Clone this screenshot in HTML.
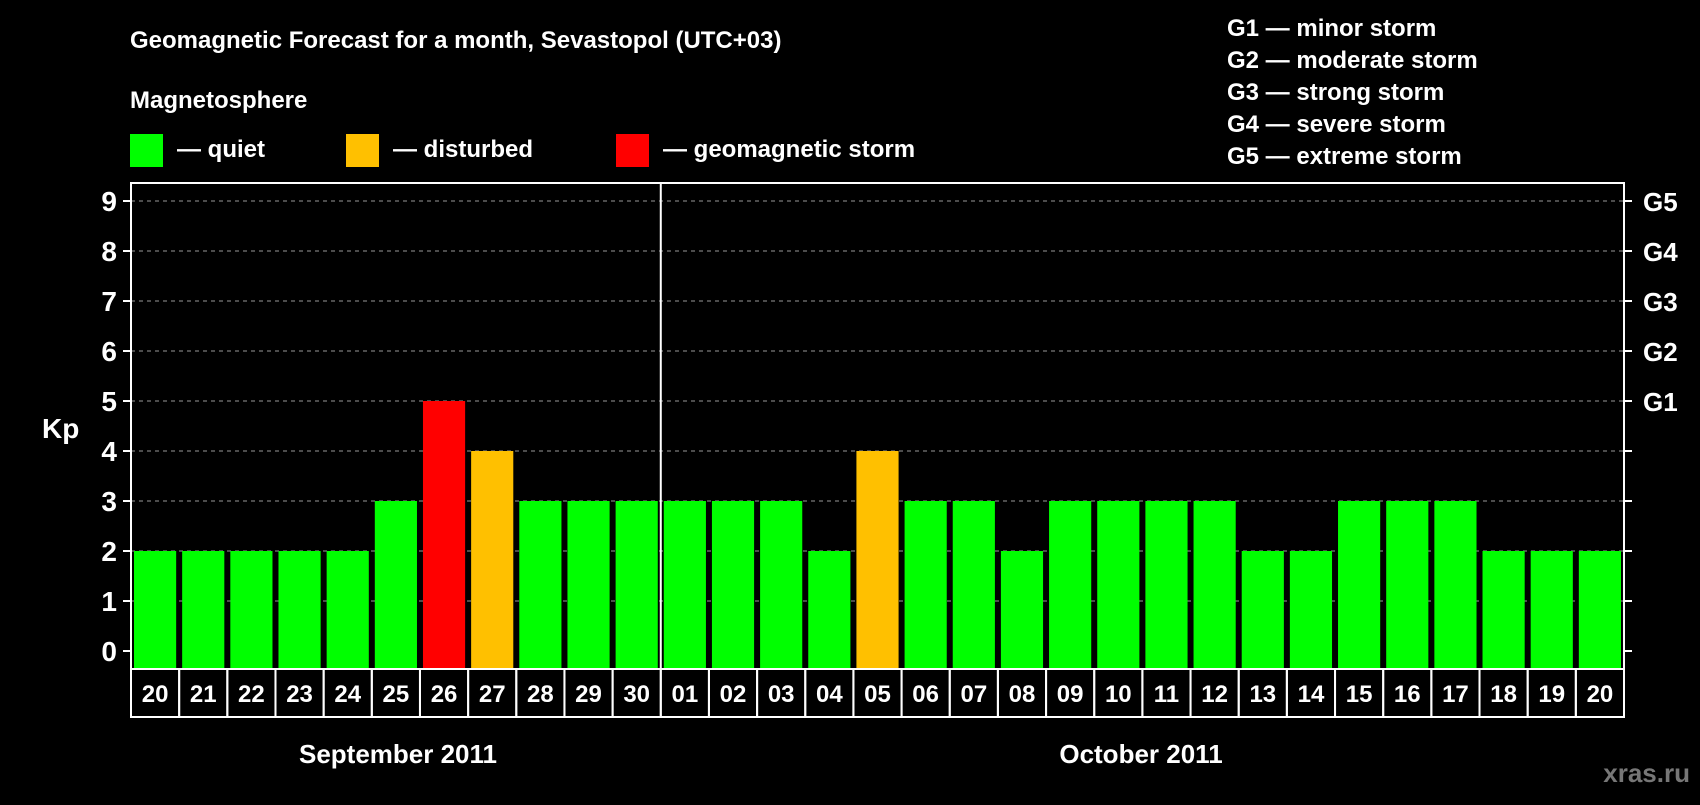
<!DOCTYPE html>
<html><head><meta charset="utf-8"><style>
body{margin:0;background:#000;width:1700px;height:800px;overflow:hidden;font-family:"Liberation Sans",sans-serif;}
svg text{font-family:"Liberation Sans",sans-serif;font-weight:bold;fill:#fff;}
</style></head><body>
<svg id="c" width="1700" height="800" xmlns="http://www.w3.org/2000/svg">
<text x="130" y="48" font-size="24">Geomagnetic Forecast for a month, Sevastopol (UTC+03)</text>
<text x="130" y="108" font-size="24">Magnetosphere</text>
<rect x="130" y="134" width="33" height="33" fill="#00ff00"/>
<text x="177" y="157" font-size="24">— quiet</text>
<rect x="346" y="134" width="33" height="33" fill="#ffc000"/>
<text x="393" y="157" font-size="24">— disturbed</text>
<rect x="616" y="134" width="33" height="33" fill="#ff0000"/>
<text x="663" y="157" font-size="24">— geomagnetic storm</text>
<g font-size="24">
<text x="1227" y="36">G1 — minor storm</text>
<text x="1227" y="68">G2 — moderate storm</text>
<text x="1227" y="100">G3 — strong storm</text>
<text x="1227" y="132">G4 — severe storm</text>
<text x="1227" y="164">G5 — extreme storm</text>
</g>
<text x="42" y="438" font-size="28">Kp</text>
<text x="398" y="763" font-size="26" text-anchor="middle">September 2011</text>
<text x="1141" y="763" font-size="26" text-anchor="middle">October 2011</text>
<text x="1690" y="782" font-size="26" text-anchor="end" style="fill:#777">xras.ru</text>
<g id="plot"></g>
</svg>
<script>
const days=["20","21","22","23","24","25","26","27","28","29","30","01","02","03","04","05","06","07","08","09","10","11","12","13","14","15","16","17","18","19","20"];
const kp=[2,2,2,2,2,3,5,4,3,3,3,3,3,3,2,4,3,3,2,3,3,3,3,2,2,3,3,3,2,2,2];
const yTicks=[0,1,2,3,4,5,6,7,8,9];
const gLabels=["G1","G2","G3","G4","G5"];
const gLevels=[5,6,7,8,9];
const L=131,R=1624,T=183,B=669,Y0=651,U=50;
const step=(R-L)/days.length;
const y=v=>Y0-v*U, x=i=>L+i*step;
const ns="http://www.w3.org/2000/svg", g=document.getElementById('plot');
function mk(t,a){const e=document.createElementNS(ns,t);for(const k in a)e.setAttribute(k,a[k]);g.appendChild(e);return e;}
yTicks.forEach(v=>{
 if(v>0){const l=mk('line',{x1:L,x2:R,y1:y(v),y2:y(v),stroke:'#999','stroke-dasharray':'4,4','stroke-width':1});
 
 }
 const t1=mk('line',{x1:L-8,x2:L,y1:y(v),y2:y(v),stroke:'#fff','stroke-width':2});
 
 
 const t2=mk('line',{x1:R,x2:R+8,y1:y(v),y2:y(v),stroke:'#fff','stroke-width':2});
 
 
 const tx=mk('text',{x:L-14,y:y(v)+10,'font-size':28,'text-anchor':'end'});tx.textContent=v;
 
 
});
gLabels.forEach((s,i)=>{const t=mk('text',{x:R+19,y:y(gLevels[i])+10,'font-size':26});t.textContent=s;
 
 });
kp.forEach((v,i)=>{
 const c=v>=5?'#ff0000':v>=4?'#ffc000':'#00ff00';
 const r=mk('rect',{x:x(i)+3,y:y(v),width:step-6,height:B-y(v),fill:c});
 
 
 const c2=mk('rect',{x:x(i),y:B,width:step,height:48,fill:'none',stroke:'#fff','stroke-width':2});
 
 
 const t=mk('text',{x:x(i)+step/2,y:B+33,'font-size':24,'text-anchor':'middle'});t.textContent=days[i];
 
 
});
const f=mk('rect',{x:L,y:T,width:R-L,height:B-T,fill:'none',stroke:'#fff','stroke-width':2});


const sep=mk('line',{x1:x(11),x2:x(11),y1:T,y2:B,stroke:'#fff','stroke-width':2});


</script>
</body></html>
